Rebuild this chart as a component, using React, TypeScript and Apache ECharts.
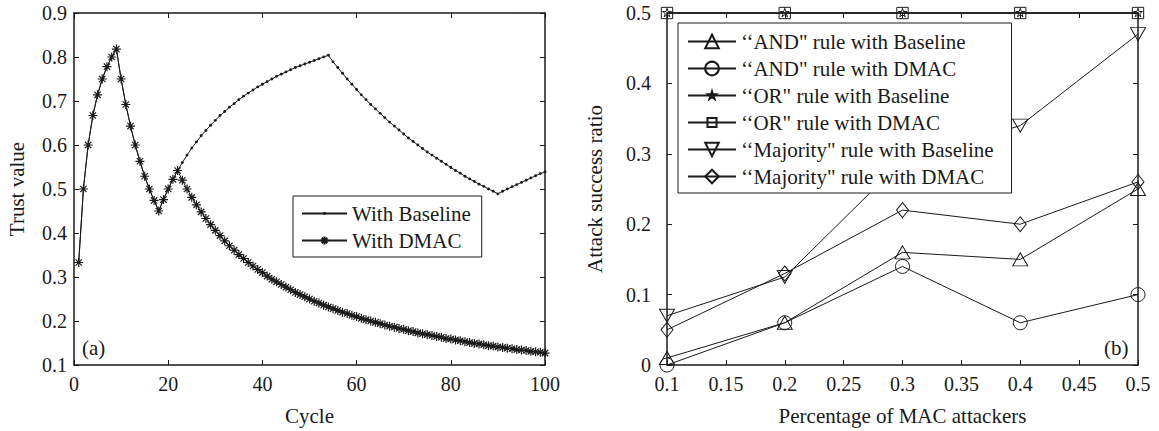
import React, { useEffect, useRef } from "react";
import * as echarts from "echarts";

// ---------- data: panel (a) ----------
const cycles = Array.from({ length: 100 }, (_, i) => i + 1);
const baselineTrust = [
  0.333, 0.5, 0.6, 0.667, 0.714, 0.75, 0.778, 0.8, 0.818, 0.75,
  0.692, 0.643, 0.6, 0.563, 0.529, 0.5, 0.474, 0.45, 0.476, 0.5,
  0.522, 0.542, 0.56, 0.577, 0.593, 0.607, 0.621, 0.633, 0.645, 0.656,
  0.667, 0.676, 0.686, 0.694, 0.703, 0.711, 0.718, 0.725, 0.732, 0.738,
  0.744, 0.75, 0.756, 0.761, 0.766, 0.771, 0.776, 0.78, 0.784, 0.788,
  0.792, 0.796, 0.8, 0.804, 0.789, 0.776, 0.763, 0.75, 0.738, 0.726,
  0.714, 0.703, 0.692, 0.682, 0.672, 0.662, 0.652, 0.643, 0.634, 0.625,
  0.616, 0.608, 0.6, 0.592, 0.584, 0.577, 0.57, 0.563, 0.556, 0.549,
  0.542, 0.536, 0.529, 0.523, 0.517, 0.511, 0.506, 0.5, 0.495, 0.489,
  0.495, 0.5, 0.505, 0.51, 0.515, 0.52, 0.525, 0.53, 0.535, 0.539,
];
const dmacTrust = [
  0.333, 0.5, 0.6, 0.667, 0.714, 0.75, 0.778, 0.8, 0.818, 0.75,
  0.692, 0.643, 0.6, 0.563, 0.529, 0.5, 0.474, 0.45, 0.476, 0.5,
  0.522, 0.542, 0.52, 0.5, 0.481, 0.464, 0.448, 0.433, 0.419, 0.406,
  0.394, 0.382, 0.371, 0.361, 0.351, 0.342, 0.333, 0.325, 0.317, 0.31,
  0.302, 0.295, 0.289, 0.283, 0.277, 0.271, 0.265, 0.26, 0.255, 0.25,
  0.245, 0.241, 0.236, 0.232, 0.228, 0.224, 0.22, 0.217, 0.213, 0.21,
  0.206, 0.203, 0.2, 0.197, 0.194, 0.191, 0.188, 0.186, 0.183, 0.181,
  0.178, 0.176, 0.173, 0.171, 0.169, 0.167, 0.165, 0.163, 0.16, 0.159,
  0.157, 0.155, 0.153, 0.151, 0.149, 0.148, 0.146, 0.144, 0.143, 0.141,
  0.14, 0.138, 0.137, 0.135, 0.134, 0.133, 0.131, 0.13, 0.129, 0.127,
];
const trustNames = ["With Baseline", "With DMAC"];

// ---------- data: panel (b) ----------
const attackerShare = [0.1, 0.2, 0.3, 0.4, 0.5];
const andBaseline = [0.01, 0.06, 0.16, 0.15, 0.25];
const andDmac = [0, 0.06, 0.14, 0.06, 0.1];
const orBaseline = [0.5, 0.5, 0.5, 0.5, 0.5];
const orDmac = [0.5, 0.5, 0.5, 0.5, 0.5];
const majBaseline = [0.07, 0.125, 0.29, 0.34, 0.47];
const majDmac = [0.05, 0.13, 0.22, 0.2, 0.26];
const ruleNames = [
  "\u2018\u2018AND\" rule with Baseline",
  "\u2018\u2018AND\" rule with DMAC",
  "\u2018\u2018OR\" rule with Baseline",
  "\u2018\u2018OR\" rule with DMAC",
  "\u2018\u2018Majority\" rule with Baseline",
  "\u2018\u2018Majority\" rule with DMAC",
];

const FONT = "'Liberation Serif', 'Times New Roman', serif";
const INK = "#1a1a1a";
const FS = 20;
const FS_BIG = 21;

const ASTERISK = "path://M5 0L5 10M0 5L10 5M1.5 1.5L8.5 8.5M8.5 1.5L1.5 8.5";
const DOT = "path://M0 0M10 10M3.2 5A1.8 1.8 0 1 0 6.8 5A1.8 1.8 0 1 0 3.2 5Z";
// padded bounds (M moves) keep the glyph smaller than its symbol box
const STAR =
  "path://M-30 -30M130 130M50 0L61.23 34.55L97.55 34.55L68.16 55.9L79.39 90.45L50 69.1L20.61 90.45L31.84 55.9L2.45 34.55L38.77 34.55Z";
const SQUARE = "path://M-2.5 -2.5M12.5 12.5M0 0L10 0L10 10L0 10Z";
const DOWN_TRI = "path://M0 0L10 0L5 9Z";

function axisCommon(extra: any) {
  return {
    axisLine: { show: true, onZero: false, lineStyle: { color: INK, width: 1.5 } },
    axisTick: { show: true, inside: true, length: 5, lineStyle: { color: INK, width: 1 } },
    splitLine: { show: false },
    axisLabel: { color: INK, fontFamily: FONT, fontSize: FS },
    nameTextStyle: { color: INK, fontFamily: FONT, fontSize: FS_BIG },
    ...extra,
  };
}

function mirror(extra: any) {
  return {
    ...axisCommon(extra),
    axisLabel: { show: false },
    name: "",
  };
}

export default function App() {
  const ref = useRef<HTMLDivElement>(null);

  useEffect(() => {
    document.body.style.margin = "0";
    if (!ref.current) return;
    const chart = echarts.init(ref.current, undefined, { renderer: "svg" });

    const hollow = { color: "transparent", borderColor: INK, borderWidth: 1 };
    const line = { color: INK, width: 1 };

    const option: any = {
      animation: false,
      backgroundColor: "#fff",
      textStyle: { fontFamily: FONT },
      grid: [
        { left: 74, top: 13, width: 471, height: 352 },
        { left: 667, top: 13, width: 471, height: 352 },
      ],
      xAxis: [
        axisCommon({
          type: "value", gridIndex: 0, min: 0, max: 100, interval: 20,
          name: "Cycle", nameLocation: "middle", nameGap: 40,
          axisLabel: { color: INK, fontFamily: FONT, fontSize: FS, margin: 9 },
        }),
        mirror({ type: "value", gridIndex: 0, min: 0, max: 100, interval: 20, position: "top" }),
        axisCommon({
          type: "value", gridIndex: 1, min: 0.1, max: 0.5, interval: 0.05,
          name: "Percentage of MAC attackers", nameLocation: "middle", nameGap: 40,
          axisLabel: { color: INK, fontFamily: FONT, fontSize: FS, margin: 9 },
        }),
        mirror({ type: "value", gridIndex: 1, min: 0.1, max: 0.5, interval: 0.05, position: "top" }),
      ],
      yAxis: [
        axisCommon({
          type: "value", gridIndex: 0, min: 0.1, max: 0.9, interval: 0.1,
          name: "Trust value", nameLocation: "middle", nameGap: 47,
          axisLabel: { color: INK, fontFamily: FONT, fontSize: FS, margin: 7 },
        }),
        mirror({ type: "value", gridIndex: 0, min: 0.1, max: 0.9, interval: 0.1, position: "right" }),
        axisCommon({
          type: "value", gridIndex: 1, min: 0, max: 0.5, interval: 0.1,
          name: "Attack success ratio", nameLocation: "middle", nameGap: 62,
          axisLabel: { color: INK, fontFamily: FONT, fontSize: FS, margin: 16 },
        }),
        mirror({ type: "value", gridIndex: 1, min: 0, max: 0.5, interval: 0.1, position: "right" }),
      ],
      legend: [
        {
          left: 293, top: 196,
          orient: "vertical",
          data: trustNames,
          itemWidth: 45, itemHeight: 10, itemGap: 6,
          padding: [7, 11, 6, 8],
          backgroundColor: "#fff",
          borderColor: INK, borderWidth: 1, borderRadius: 0,
          textStyle: { color: INK, fontFamily: FONT, fontSize: FS_BIG },
          selectedMode: false,
        },
        {
          left: 678, top: 23,
          orient: "vertical",
          data: ruleNames,
          itemWidth: 48, itemHeight: 17, itemGap: 6,
          padding: [8, 18, 6, 9],
          backgroundColor: "#fff",
          borderColor: INK, borderWidth: 1, borderRadius: 0,
          textStyle: { color: INK, fontFamily: FONT, fontSize: FS_BIG },
          selectedMode: false,
        },
      ],
      graphic: [
        { type: "text", left: 82, top: 337, style: { text: "(a)", font: `${FS_BIG}px ${FONT}`, fill: INK } },
        { type: "text", left: 1104, top: 337, style: { text: "(b)", font: `${FS_BIG}px ${FONT}`, fill: INK } },
      ],
      series: [
        {
          name: trustNames[0], type: "line", xAxisIndex: 0, yAxisIndex: 0,
          data: cycles.map((c, i) => [c, baselineTrust[i]]),
          symbol: DOT, symbolSize: 8, showAllSymbol: true,
          itemStyle: { color: INK, borderColor: INK, borderWidth: 0 },
          lineStyle: line, clip: false, silent: true,
        },
        {
          name: trustNames[1], type: "line", xAxisIndex: 0, yAxisIndex: 0,
          data: cycles.map((c, i) => [c, dmacTrust[i]]),
          symbol: ASTERISK, symbolSize: 9, showAllSymbol: true,
          itemStyle: { color: "transparent", borderColor: INK, borderWidth: 1.2 },
          lineStyle: line, clip: false, silent: true,
        },
        {
          name: ruleNames[0], type: "line", xAxisIndex: 2, yAxisIndex: 2,
          data: attackerShare.map((x, i) => [x, andBaseline[i]]),
          symbol: "triangle", symbolSize: [15, 13],
          itemStyle: hollow, lineStyle: line, clip: false, silent: true,
        },
        {
          name: ruleNames[1], type: "line", xAxisIndex: 2, yAxisIndex: 2,
          data: attackerShare.map((x, i) => [x, andDmac[i]]),
          symbol: "circle", symbolSize: 14,
          itemStyle: hollow, lineStyle: line, clip: false, silent: true,
        },
        {
          name: ruleNames[2], type: "line", xAxisIndex: 2, yAxisIndex: 2,
          data: attackerShare.map((x, i) => [x, orBaseline[i]]),
          symbol: STAR, symbolSize: 15,
          itemStyle: hollow, lineStyle: line, clip: false, silent: true,
        },
        {
          name: ruleNames[3], type: "line", xAxisIndex: 2, yAxisIndex: 2,
          data: attackerShare.map((x, i) => [x, orDmac[i]]),
          symbol: SQUARE, symbolSize: 17,
          itemStyle: hollow, lineStyle: line, clip: false, silent: true,
        },
        {
          name: ruleNames[4], type: "line", xAxisIndex: 2, yAxisIndex: 2,
          data: attackerShare.map((x, i) => [x, majBaseline[i]]),
          symbol: DOWN_TRI, symbolSize: [15, 13],
          itemStyle: hollow, lineStyle: line, clip: false, silent: true,
        },
        {
          name: ruleNames[5], type: "line", xAxisIndex: 2, yAxisIndex: 2,
          data: attackerShare.map((x, i) => [x, majDmac[i]]),
          symbol: "diamond", symbolSize: [12, 15],
          itemStyle: hollow, lineStyle: line, clip: false, silent: true,
        },
      ],
    };

    chart.setOption(option);
    return () => chart.dispose();
  }, []);

  return <div ref={ref} style={{ width: 1159, height: 431 }} />;
}
